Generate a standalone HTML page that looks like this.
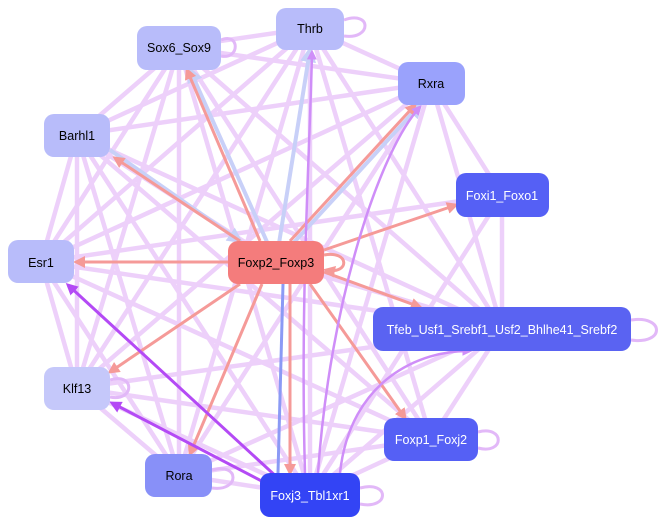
<!DOCTYPE html>
<html><head><meta charset="utf-8"><style>
html,body{margin:0;padding:0;background:#fff;}
svg{display:block;font-family:"Liberation Sans",sans-serif;}
</style></head><body>
<svg width="664" height="525" viewBox="0 0 664 525" xmlns="http://www.w3.org/2000/svg">
<defs>
<marker id="al" markerWidth="4" markerHeight="4" refX="3" refY="2" orient="auto" markerUnits="strokeWidth"><path d="M0,0L4,2L0,4z" fill="#e6c4f8"/></marker>
<marker id="as" markerWidth="4" markerHeight="4" refX="3" refY="2" orient="auto" markerUnits="strokeWidth"><path d="M0,0L4,2L0,4z" fill="#f59a98"/></marker>
<marker id="ab" markerWidth="4" markerHeight="4" refX="3" refY="2" orient="auto" markerUnits="strokeWidth"><path d="M0,0L4,2L0,4z" fill="#c8d0f8"/></marker>
<marker id="ap" markerWidth="4" markerHeight="4" refX="3" refY="2" orient="auto" markerUnits="strokeWidth"><path d="M0,0L4,2L0,4z" fill="#b44af5"/></marker>
<marker id="am" markerWidth="4" markerHeight="4" refX="3" refY="2" orient="auto" markerUnits="strokeWidth"><path d="M0,0L4,2L0,4z" fill="#cf8ef8"/></marker>
</defs>
<g stroke="#edcefa" stroke-width="4.5" fill="none" opacity="0.95" marker-end="url(#al)">
<line x1="310" y1="28" x2="179" y2="47"/><line x1="310" y1="28" x2="431" y2="83"/>
<line x1="310" y1="28" x2="77" y2="135"/><line x1="310" y1="28" x2="41" y2="262"/>
<line x1="310" y1="28" x2="77" y2="388"/><line x1="310" y1="28" x2="179" y2="475"/>
<line x1="310" y1="28" x2="310" y2="495"/><line x1="310" y1="28" x2="502" y2="329"/>
<line x1="310" y1="28" x2="431" y2="439"/>
<line x1="179" y1="47" x2="431" y2="83"/><line x1="179" y1="47" x2="77" y2="135"/>
<line x1="179" y1="47" x2="41" y2="262"/><line x1="179" y1="47" x2="77" y2="388"/>
<line x1="179" y1="47" x2="179" y2="475"/><line x1="179" y1="47" x2="310" y2="495"/>
<line x1="179" y1="47" x2="502" y2="329"/><line x1="179" y1="47" x2="431" y2="439"/>
<line x1="431" y1="83" x2="77" y2="135"/><line x1="431" y1="83" x2="41" y2="262"/>
<line x1="431" y1="83" x2="77" y2="388"/><line x1="431" y1="83" x2="310" y2="495"/>
<line x1="431" y1="83" x2="502" y2="329"/><line x1="431" y1="83" x2="179" y2="475"/>
<line x1="77" y1="135" x2="41" y2="262"/><line x1="77" y1="135" x2="77" y2="388"/>
<line x1="77" y1="135" x2="179" y2="475"/><line x1="77" y1="135" x2="310" y2="495"/>
<line x1="77" y1="135" x2="502" y2="329"/><line x1="77" y1="135" x2="431" y2="439"/>
<line x1="41" y1="262" x2="77" y2="388"/><line x1="41" y1="262" x2="179" y2="475"/>
<line x1="41" y1="262" x2="502" y2="329"/><line x1="41" y1="262" x2="431" y2="439"/>
<line x1="41" y1="262" x2="502" y2="195"/>
<line x1="77" y1="388" x2="179" y2="475"/><line x1="77" y1="388" x2="310" y2="495"/>
<line x1="77" y1="388" x2="502" y2="329"/><line x1="77" y1="388" x2="431" y2="439"/>
<line x1="179" y1="475" x2="310" y2="495"/><line x1="179" y1="475" x2="502" y2="329"/>
<line x1="179" y1="475" x2="431" y2="439"/>
<line x1="310" y1="495" x2="502" y2="329"/><line x1="310" y1="495" x2="431" y2="439"/>
<line x1="310" y1="495" x2="502" y2="195"/>
<line x1="431" y1="439" x2="502" y2="329"/><line x1="502" y1="195" x2="502" y2="329"/>
<line x1="431" y1="83" x2="502" y2="195"/>
<line x1="276" y1="262" x2="502" y2="329"/><line x1="77" y1="135" x2="276" y2="262"/>
</g>
<g stroke="#c8d0f8" stroke-width="4" fill="none" marker-end="url(#ab)">
<line x1="276" y1="262" x2="310" y2="50"/><line x1="276" y1="262" x2="190" y2="70"/>
<line x1="276" y1="262" x2="420" y2="105"/><line x1="110" y1="150" x2="240" y2="241"/>
</g>
<line x1="278" y1="473" x2="283" y2="284" stroke="#8b9af5" stroke-width="3"/>
<g stroke="#f59a98" stroke-width="3" fill="none" marker-end="url(#as)">
<line x1="290" y1="241" x2="415" y2="105"/><line x1="324" y1="250" x2="456" y2="205"/>
<line x1="324" y1="272" x2="420" y2="307"/><line x1="310" y1="284" x2="405" y2="418"/>
<line x1="228" y1="262" x2="76" y2="262"/><line x1="240" y1="284" x2="110" y2="372"/>
<line x1="262" y1="284" x2="190" y2="454"/><line x1="240" y1="241" x2="115" y2="158"/>
<line x1="260" y1="241" x2="187" y2="70"/><line x1="290" y1="284" x2="290" y2="473"/>
<path d="M324,255 C350,250 350,275 326,270"/>
</g>
<g stroke="#b44af5" stroke-width="3" fill="none" marker-end="url(#ap)">
<line x1="280" y1="480" x2="68" y2="285"/><line x1="275" y1="488" x2="112" y2="403"/>
</g>
<g stroke="#cf8ef8" stroke-width="2.5" fill="none" marker-end="url(#am)">
<path d="M318,473 C330,300 380,150 420,107"/>
<path d="M305,473 C300,300 310,150 312,52"/>
<path d="M340,473 C350,380 420,350 470,351"/>
</g>
<g fill="none" stroke="#e2b8f8" stroke-width="3">
<path d="M344,20 C372,10 372,40 344,36"/><path d="M478,432 C505,425 505,455 478,448"/>
<path d="M631,320 C665,315 665,345 631,340"/><path d="M360,488 C390,480 390,510 360,504"/>
<path d="M110,380 C135,372 135,402 110,397"/><path d="M221,40 C240,32 240,60 221,56"/>
<path d="M212,470 C240,462 240,492 212,488"/>
</g>
<g font-size="12.5" text-anchor="middle">
<rect x="276" y="8" width="68" height="42" rx="10" fill="#b8bcfa"/><text x="310" y="33">Thrb</text>
<rect x="137" y="26" width="84" height="44" rx="10" fill="#b8bcfa"/><text x="179" y="52">Sox6_Sox9</text>
<rect x="398" y="62" width="67" height="43" rx="10" fill="#9aa2fc"/><text x="431" y="88">Rxra</text>
<rect x="44" y="114" width="66" height="43" rx="10" fill="#b8bcfa"/><text x="77" y="140">Barhl1</text>
<rect x="456" y="173" width="93" height="44" rx="10" fill="#5560f5"/><text x="502" y="200" fill="#fff">Foxi1_Foxo1</text>
<rect x="8" y="240" width="66" height="43" rx="10" fill="#b8bcfa"/><text x="41" y="267">Esr1</text>
<rect x="228" y="241" width="96" height="43" rx="10" fill="#f47c7c"/><text x="276" y="267">Foxp2_Foxp3</text>
<rect x="373" y="307" width="258" height="44" rx="10" fill="#5a63f2"/><text x="502" y="334" fill="#fff">Tfeb_Usf1_Srebf1_Usf2_Bhlhe41_Srebf2</text>
<rect x="44" y="367" width="66" height="43" rx="10" fill="#c5c8fa"/><text x="77" y="393">Klf13</text>
<rect x="384" y="418" width="94" height="43" rx="10" fill="#5560f5"/><text x="431" y="444" fill="#fff">Foxp1_Foxj2</text>
<rect x="145" y="454" width="67" height="43" rx="10" fill="#8890f8"/><text x="179" y="480">Rora</text>
<rect x="260" y="473" width="100" height="44" rx="10" fill="#3344f5"/><text x="310" y="500" fill="#fff">Foxj3_Tbl1xr1</text>
</g>
</svg>
</body></html>
